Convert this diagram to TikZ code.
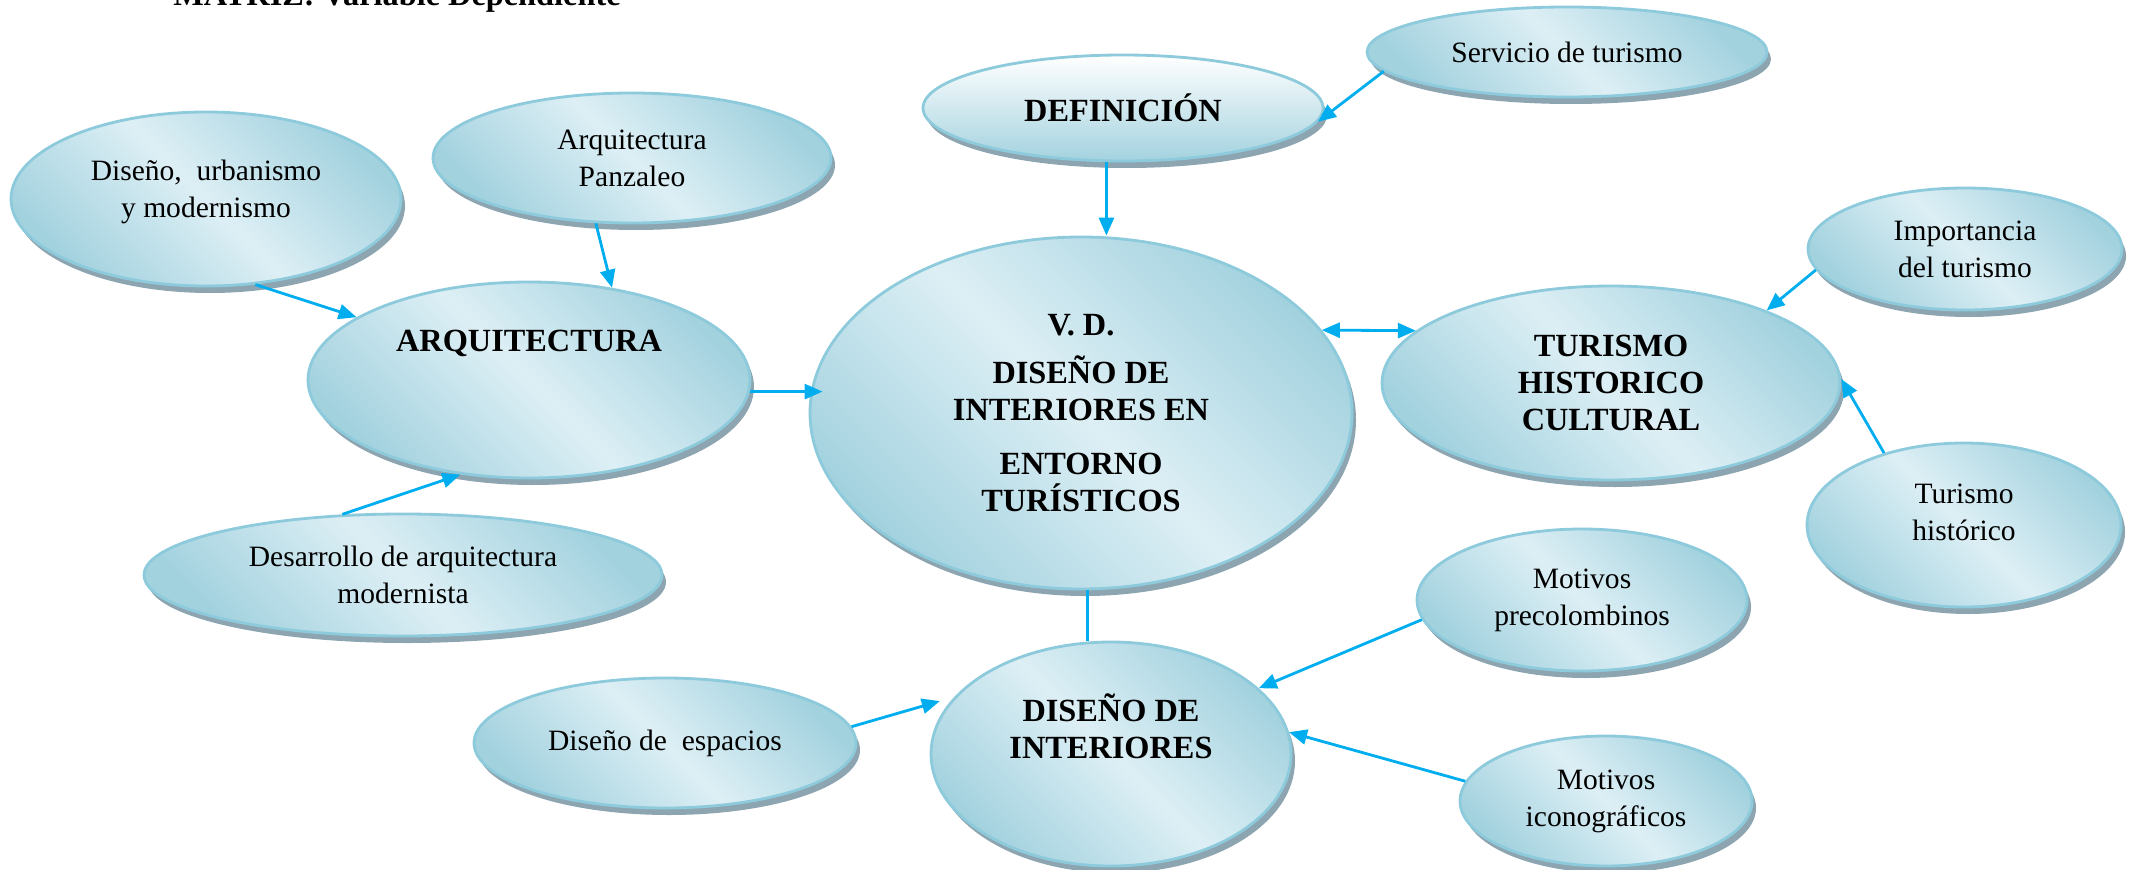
\documentclass[tikz,border=0pt]{standalone}
\usepackage{fontspec}
\setmainfont{Liberation Serif}
\usetikzlibrary{shapes.geometric,shadows,arrows.meta}
\definecolor{bubdark}{HTML}{A3D2DF}
\definecolor{bublight}{HTML}{DDEFF5}
\definecolor{bubedge}{HTML}{8DCADB}
\definecolor{bubshadow}{HTML}{8DA5B0}
\definecolor{arrowblue}{HTML}{00AEEF}

\begin{document}
\begin{tikzpicture}
    \tikzstyle{bubble}=[ellipse, draw=bubedge, line width=0.8pt, inner sep=0pt, align=center,
        left color=bubdark, right color=bubdark, middle color=bublight, shading angle=135,
        drop shadow={shadow xshift=0.4mm, shadow yshift=-0.7mm, fill=bubshadow, opacity=1},
        font=\fontsize{8.4}{10.5}\selectfont]
    \tikzstyle{head}=[font=\fontsize{9.2}{10.5}\selectfont\bfseries]
    \tikzstyle{link}=[draw=arrowblue, line width=0.8pt, >={Triangle[length=1.8mm,width=1.5mm]}, ->]
    \useasboundingbox (0,0) rectangle (21.37,-8.69);
    \clip (0,0) rectangle (21.37,-8.69);
    \node[head, anchor=base] (title) at (3.97,-0.06) {MATRIZ: Variable Dependiente};
    \node[bubble, minimum width=3.90cm, minimum height=1.74cm, text depth=0.2cm] (urb) at (2.06,-1.99) {Diseño,~ urbanismo\\y modernismo};
    \node[bubble, minimum width=3.98cm, minimum height=1.30cm] (panz) at (6.32,-1.58) {Arquitectura\\Panzaleo};
    \node[bubble, head, minimum width=4.00cm, minimum height=1.06cm, top color=white, bottom color=bubdark] (defi) at (11.23,-1.08) {DEFINICIÓN};
    \node[bubble, minimum width=4.00cm, minimum height=0.90cm] (serv) at (15.67,-0.52) {Servicio de turismo};
    \node[bubble, head, minimum width=4.42cm, minimum height=1.96cm, text depth=0.78cm] (arq) at (5.29,-3.80) {ARQUITECTURA};
    \node[bubble, head, minimum width=5.42cm, minimum height=3.52cm] (vd) at (10.81,-4.13) {V. D.\\[3.2pt]DISEÑO DE\\INTERIORES EN\\[4.9pt]ENTORNO\\TURÍSTICOS};
    \node[bubble, head, minimum width=4.58cm, minimum height=1.94cm] (tur) at (16.11,-3.83) {TURISMO\\HISTORICO\\CULTURAL};
    \node[bubble, minimum width=3.14cm, minimum height=1.22cm] (imp) at (19.65,-2.49) {Importancia\\del turismo};
    \node[bubble, minimum width=3.14cm, minimum height=1.64cm, text depth=0.26cm] (thist) at (19.64,-5.25) {Turismo\\histórico};
    \node[bubble, minimum width=5.18cm, minimum height=1.22cm] (desa) at (4.03,-5.75) {Desarrollo de arquitectura\\modernista};
    \node[bubble, minimum width=3.30cm, minimum height=1.42cm] (prec) at (15.82,-6.00) {Motivos\\precolombinos};
    \node[bubble, minimum width=3.82cm, minimum height=1.30cm] (esp) at (6.65,-7.43) {Diseño de~ espacios};
    \node[bubble, head, minimum width=3.60cm, minimum height=2.24cm, text depth=0.56cm] (dint) at (11.11,-7.54) {DISEÑO DE\\INTERIORES};
    \node[bubble, minimum width=2.92cm, minimum height=1.30cm] (icon) at (16.06,-8.01) {Motivos\\iconográficos};
    \draw[link] (urb.-60) -- (arq.160);
    \draw[link] (panz.-119) -- (arq.48);
    \draw[link] (desa.135) -- (arq.-126);
    \draw[link, shorten >=-1.4mm] (arq.-3) -- (arq.-3 -| vd.west);
    \draw[link] (defi.-107) -- (defi.-107 |- vd.north);
    \draw[link] (serv.186) -- (defi.-4);
    \draw[link, <->] (vd.19) -- (tur.165);
    \draw[link] (imp.188) -- (tur.25);
    \draw[link] (thist.138) -- (tur.1);
    \draw[link, -] (vd.-88) -- (vd.-88 |- dint.north);
    \draw[link, shorten >=1.5mm] (esp.5) -- (dint.160);
    \draw[link] (prec.187) -- (dint.24);
    \draw[link] (icon.172) -- (dint.7);
\end{tikzpicture}
\end{document}
